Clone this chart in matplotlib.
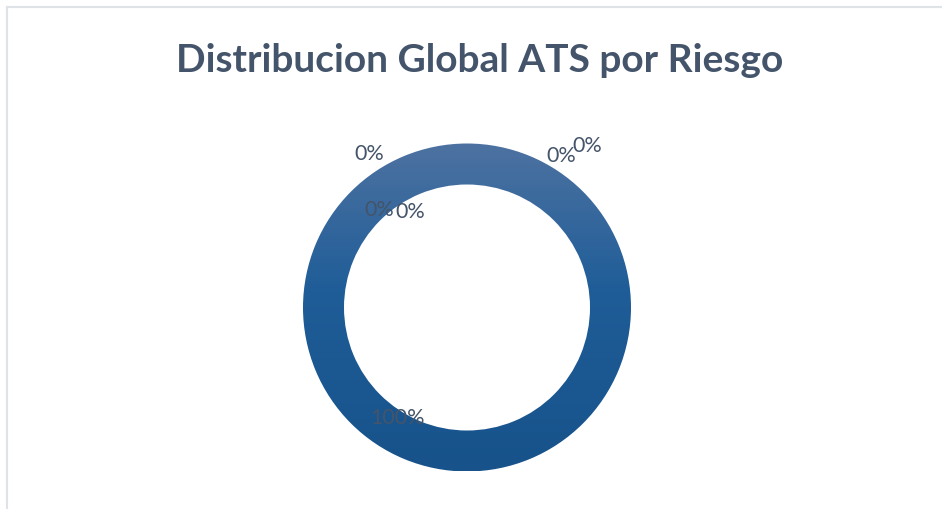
import numpy as np
import matplotlib.pyplot as plt
from matplotlib.colors import LinearSegmentedColormap
from matplotlib.lines import Line2D

# data
categories = ["Riesgo 1", "Riesgo 2", "Riesgo 3", "Riesgo 4", "Riesgo 5", "Riesgo 6"]
values = [0, 0, 0, 0, 0, 100]

# label positions (pixels, image coords), one per category
label_pos = [(369, 154), (561, 156), (587, 146), (379, 210), (410, 212), (398, 418)]

W, H = 942, 510
CX, CY, R = 467, 308.5, 164
TEXT = "#44546a"


def main():
    fig = plt.figure(figsize=(W / 100, H / 100), dpi=100)
    ax = fig.add_axes([0, 0, 1, 1])
    ax.axis("off")

    wedges, _ = ax.pie(values, center=(CX, CY), radius=R, startangle=90,
                       wedgeprops=dict(width=R * 0.25, edgecolor="none", linewidth=0))

    # vertical gradient on the ring
    cmap = LinearSegmentedColormap.from_list(
        "ring", [(0, "#4d72a1"), (0.45, "#1f5d98"), (1, "#17528a")])
    grad = np.linspace(0, 1, 256).reshape(-1, 1)
    for w in wedges:
        im = ax.imshow(grad, cmap=cmap, aspect="auto",
                       extent=(CX - R, CX + R, CY + R, CY - R), zorder=2)
        im.set_clip_path(w)
        w.set_alpha(0)
    ax.set_xlim(0, W)
    ax.set_ylim(H, 0)
    ax.set_aspect("equal")

    total = sum(values)
    for v, (x, y) in zip(values, label_pos):
        ax.text(x, y, f"{v / total * 100:.0f}%", ha="center", va="center",
                fontsize=15.5, family="Lato", color=TEXT, zorder=5)

    fig.text(480 / W, 1 - 61 / H, "Distribucion Global ATS por Riesgo",
             ha="center", va="center", fontsize=28, family="Lato",
             fontweight="bold", color=TEXT)

    # chart frame
    fig.add_artist(Line2D([7 / W, 7 / W], [0, 1 - 8 / H], transform=fig.transFigure,
                          color="#dfe3e8", lw=1.5))
    fig.add_artist(Line2D([7 / W, 1], [1 - 8 / H, 1 - 8 / H], transform=fig.transFigure,
                          color="#dfe3e8", lw=1.5))

    fig.savefig("out.png", dpi=100, facecolor="white")


if __name__ == '__main__':
    main()
